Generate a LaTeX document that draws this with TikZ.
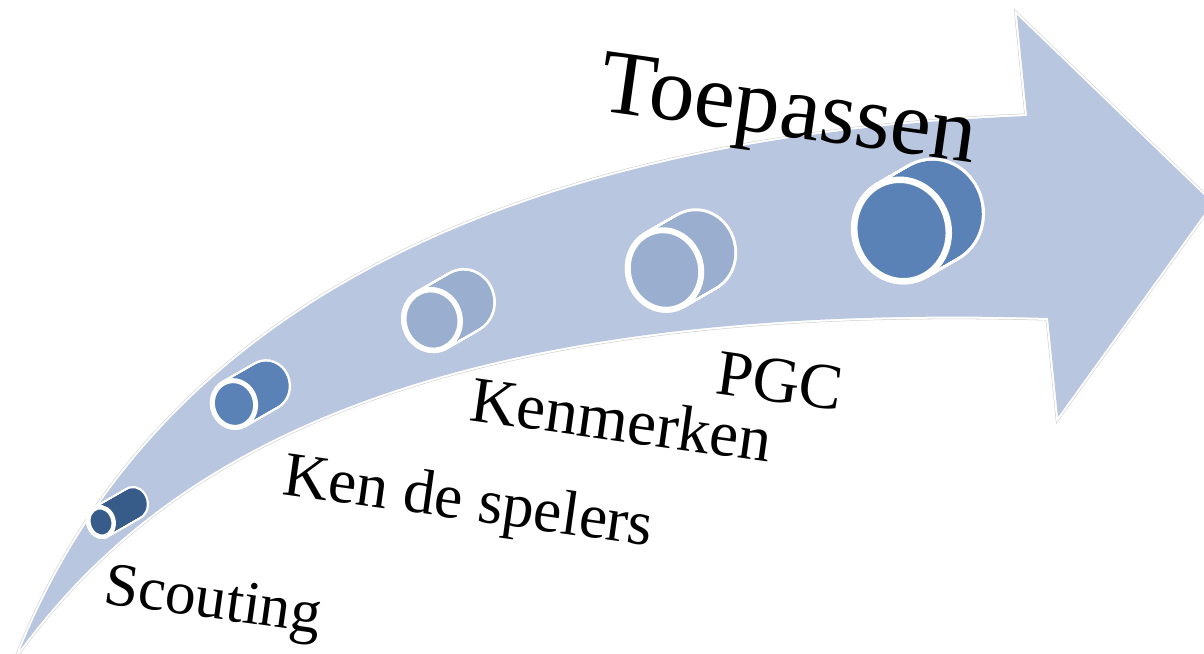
\documentclass[tikz,border=0pt]{standalone}
\usepackage{fontspec}
\setmainfont{Liberation Serif}
\definecolor{arrowfill}{HTML}{B9C6DF}
\definecolor{cdark}{HTML}{385C8A}
\definecolor{cmed}{HTML}{5B82B6}
\definecolor{clight}{HTML}{9AAFCF}
\newcommand\drawcyl[6]{%
  \pgfmathsetmacro\cylw{#5*0.5669}%
  \foreach \k in {0,...,30}{%
    \pgfmathsetmacro\sx{#1+33*(1-\k/30)}%
    \pgfmathsetmacro\sy{#2-19*(1-\k/30)}%
    \draw[white, line width=\cylw pt, rotate around={15:(\sx,\sy)}] (\sx,\sy) ellipse [x radius=#3, y radius=#4];
  }%
  \foreach \k in {0,...,30}{%
    \pgfmathsetmacro\sx{#1+33*(1-\k/30)}%
    \pgfmathsetmacro\sy{#2-19*(1-\k/30)}%
    \fill[#6, rotate around={15:(\sx,\sy)}] (\sx,\sy) ellipse [x radius=#3, y radius=#4];
  }%
  \draw[white, line width=\cylw pt, fill=#6, rotate around={15:(#1,#2)}] (#1,#2) ellipse [x radius=#3, y radius=#4];
}
\begin{document}
\begin{tikzpicture}[x=0.02cm, y=-0.02cm,
  lbl/.style={inner sep=0pt, anchor=base west, rotate=-8, text=black},
  bigarrow/.style={fill=arrowfill, line join=round,
     preaction={draw=black!20, line width=2.9pt},
     preaction={draw=white, line width=2.3pt}}]
\useasboundingbox (0,0) rectangle (1204,653);
% curved arrow
\path[bigarrow] (20,650) .. controls (170,280) and (560,135) .. (1027,116)
   -- (1017,15) -- (1212,203) -- (1058,417) -- (1048,318)
   .. controls (420,300) and (160,460) .. (20,650) -- cycle;
% cylinders
\drawcyl{101}{522}{12.5}{15}{4.5}{cdark}
\drawcyl{234}{404}{21.5}{23.5}{5}{cmed}
\drawcyl{432}{320}{28}{30.5}{5.5}{clight}
\drawcyl{664.5}{270}{36.5}{40}{6}{clight}
\drawcyl{901.5}{230.5}{47}{51}{6.5}{cmed}
% labels
\node[lbl, font=\fontsize{35}{35}\selectfont] (scouting) at (102,603) {Scouting};
\node[lbl, font=\fontsize{36}{36}\selectfont] (kendespelers) at (281,494) {Ken de spelers};
\node[lbl, font=\fontsize{37}{37}\selectfont] (kenmerken) at (468,420) {Kenmerken};
\node[lbl, font=\fontsize{37}{37}\selectfont] (pgc) at (714,393) {PGC};
\node[lbl, font=\fontsize{52}{52}\selectfont] (toepassen) at (597,110) {Toepassen};
\end{tikzpicture}
\end{document}
